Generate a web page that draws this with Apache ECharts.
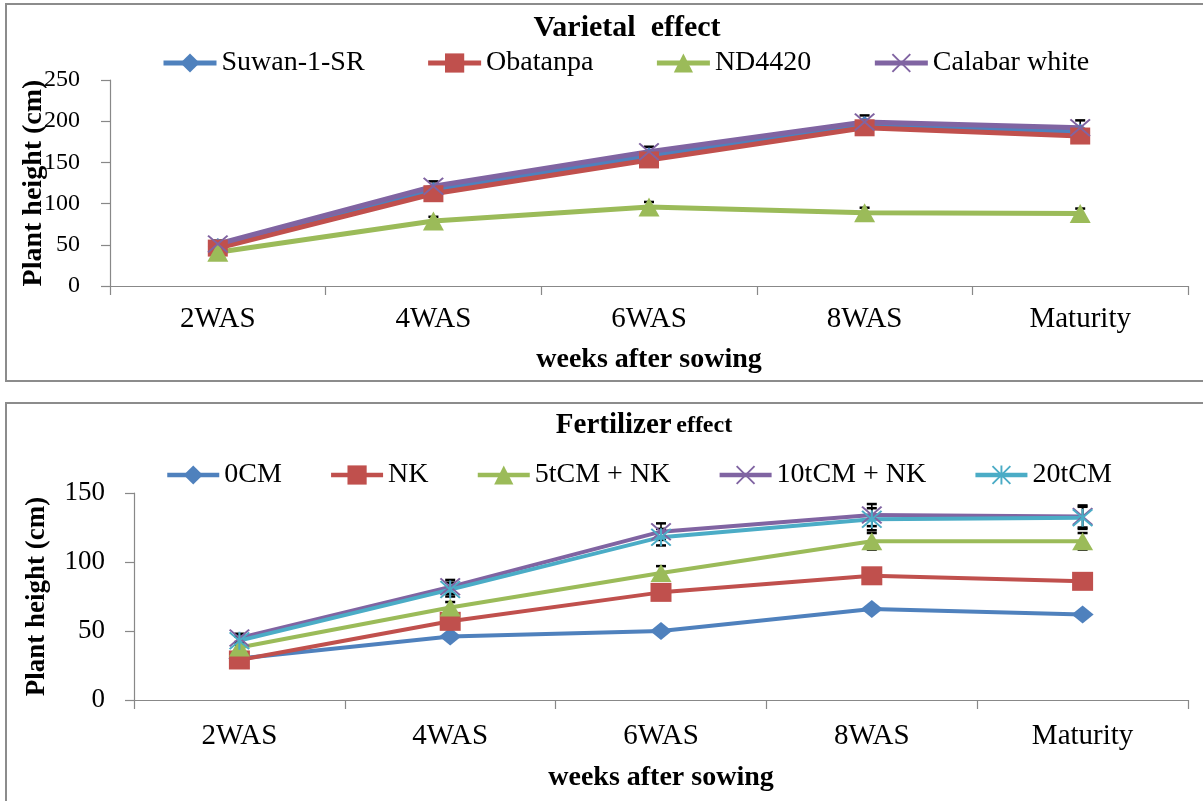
<!DOCTYPE html>
<html>
<head>
<meta charset="utf-8">
<script src="https://cdn.jsdelivr.net/npm/echarts@6/dist/echarts.min.js"></script>
<style>
html,body{margin:0;padding:0;background:#fff;}
#chart{width:1203px;height:801px;}
</style>
</head>
<body>
<div id="chart"></div>
<script>
// ---------- data ----------
const categories = ['2WAS', '4WAS', '6WAS', '8WAS', 'Maturity'];

// Varietal effect (top panel)
const varietyNames = ['Suwan-1-SR', 'Obatanpa', 'ND4420', 'Calabar white'];
const suwan     = [48, 116, 158, 196, 187];
const obatanpa  = [46, 112, 153, 192, 182];
const nd4420    = [41, 79, 96, 89, 88];
const calabar   = [51, 121, 163, 199, 192];
const nd4420Err  = [3, 5, 6, 6, 6];
const calabarErr = [4, 6, 6, 8, 9];
const topTicks = { min: 0, max: 250, interval: 50 };

// Fertilizer effect (bottom panel)
const fertNames = ['0CM', 'NK', '5tCM + NK', '10tCM + NK', '20tCM'];
const cm0     = [30, 46, 50, 66, 62];
const nk      = [29, 57, 78, 90, 86];
const cm5nk   = [38, 67, 92, 115, 115];
const cm10nk  = [45, 82, 122, 134, 133];
const cm20    = [43, 80, 118, 131, 132];
const cm5nkErr  = [2, 4, 5, 6, 6];
const cm10nkErr = [3, 5, 6, 8, 8];
const cm20Err   = [3, 5, 6, 8, 8];
const bottomTicks = { min: 0, max: 150, interval: 50 };

// ---------- styling ----------
const FONT = 'Liberation Serif';
const C = { blue: '#4F81BD', red: '#C0504D', green: '#9BBB59', purple: '#8064A2', cyan: '#4BACC6' };
const X_PATH = 'path://M0,0.7 L0.7,0 L5,4.3 L9.3,0 L10,0.7 L5.7,5 L10,9.3 L9.3,10 L5,5.7 L0.7,10 L0,9.3 L4.3,5 Z';
const STAR_PATH = 'path://M0,0.7 L0.7,0 L5,4.3 L9.3,0 L10,0.7 L5.7,5 L10,9.3 L9.3,10 L5,5.7 L0.7,10 L0,9.3 L4.3,5 Z M4.5,0 L5.5,0 L5.5,10 L4.5,10 Z';

function lineSeries(name, data, color, symbol, size, idx, lw) {
  return {
    type: 'line', name: name, data: data,
    xAxisIndex: idx, yAxisIndex: idx,
    symbol: symbol, symbolSize: size,
    lineStyle: { color: color, width: lw },
    itemStyle: { color: color, borderWidth: 0 },
    z: 3
  };
}

function errSeries(vals, errs, idx) {
  return {
    type: 'custom', xAxisIndex: idx, yAxisIndex: idx, z: 1, silent: true,
    encode: { x: 0, y: 1 },
    data: vals.map(function (v, i) { return [i, v, errs[i]]; }),
    renderItem: function (params, api) {
      const i = api.value(0), v = api.value(1), e = api.value(2);
      const t = api.coord([i, v + e]);
      const b = api.coord([i, v - e]);
      const w = 5;
      const st = { stroke: '#000', lineWidth: 1.6 };
      return {
        type: 'group',
        children: [
          { type: 'line', shape: { x1: t[0], y1: t[1], x2: b[0], y2: b[1] }, style: st },
          { type: 'line', shape: { x1: t[0] - w, y1: t[1], x2: t[0] + w, y2: t[1] }, style: { stroke: '#000', lineWidth: 2.5 } },
          { type: 'line', shape: { x1: b[0] - w, y1: b[1], x2: b[0] + w, y2: b[1] }, style: { stroke: '#000', lineWidth: 2.5 } }
        ]
      };
    }
  };
}

function xAxis(idx, labelSize, margin, nameGap) {
  return {
    type: 'category', gridIndex: idx, data: categories,
    boundaryGap: true,
    name: 'weeks after sowing', nameLocation: 'middle', nameGap: nameGap,
    nameMoveOverlap: false,
    nameTextStyle: { fontFamily: FONT, fontWeight: 'bold', fontSize: 28, color: '#000' },
    axisLine: { lineStyle: { color: '#888', width: 1.2 } },
    axisTick: { show: true, length: 9, interval: 0, lineStyle: { color: '#888', width: 1.2 } },
    axisLabel: { fontFamily: FONT, fontSize: labelSize, color: '#000', margin: margin, interval: 0 },
    splitLine: { show: false }
  };
}

function yAxis(idx, ticks, labelSize, margin, nameSize, nameGap) {
  return {
    type: 'value', gridIndex: idx,
    min: ticks.min, max: ticks.max, interval: ticks.interval,
    name: 'Plant height (cm)', nameLocation: 'middle', nameGap: nameGap, nameRotate: 90,
    nameMoveOverlap: false,
    nameTextStyle: { fontFamily: FONT, fontWeight: 'bold', fontSize: nameSize, color: '#000' },
    axisLine: { show: true, lineStyle: { color: '#888', width: 1.2 } },
    axisTick: { show: true, length: 9, lineStyle: { color: '#888', width: 1.2 } },
    axisLabel: { fontFamily: FONT, fontSize: labelSize, color: '#000', margin: margin },
    splitLine: { show: false }
  };
}

const chart = echarts.init(document.getElementById('chart'), null, { renderer: 'canvas' });

const option = {
  animation: false,
  backgroundColor: '#fff',
  graphic: [
    { type: 'rect', shape: { x: 6, y: 4, width: 1210, height: 377 }, style: { fill: 'none', stroke: '#8c8c8c', lineWidth: 2 }, z: -1 },
    { type: 'rect', shape: { x: 6, y: 403, width: 1210, height: 420 }, style: { fill: 'none', stroke: '#8c8c8c', lineWidth: 2 }, z: -1 }
  ],
  title: [
    {
      text: 'Varietal  effect', left: 627, top: 13, textAlign: 'center', padding: 0,
      textStyle: { fontFamily: FONT, fontWeight: 'bold', fontSize: 30, color: '#000' }
    },
    {
      text: '{a|Fertilizer} {b|effect}', left: 644, top: 411, textAlign: 'center', padding: 0,
      textStyle: {
        fontFamily: FONT, color: '#000',
        rich: {
          a: { fontFamily: FONT, fontWeight: 'bold', fontSize: 29, color: '#000' },
          b: { fontFamily: FONT, fontWeight: 'bold', fontSize: 24, color: '#000' }
        }
      }
    }
  ],
  legend: [
    {
      data: varietyNames, left: 161, top: 49, padding: 0,
      itemWidth: 53, itemHeight: 24, itemGap: 61,
      lineStyle: { width: 5 },
      textStyle: { fontFamily: FONT, fontSize: 28, color: '#000' }
    },
    {
      data: fertNames, left: 165, top: 461, padding: 0,
      itemWidth: 52, itemHeight: 24, itemGap: 47,
      lineStyle: { width: 4.5 },
      textStyle: { fontFamily: FONT, fontSize: 28, color: '#000' }
    }
  ],
  grid: [
    { left: 110, right: 15, top: 80, bottom: 515, containLabel: false },
    { left: 134, right: 15, top: 493, bottom: 101, containLabel: false }
  ],
  xAxis: [ xAxis(0, 29, 19, 60), xAxis(1, 29, 22, 64) ],
  yAxis: [ yAxis(0, topTicks, 24, 30, 28, 62), yAxis(1, bottomTicks, 27, 29, 27, 83) ],
  series: [
    errSeries(nd4420, nd4420Err, 0),
    errSeries(calabar, calabarErr, 0),
    lineSeries(varietyNames[0], suwan, C.blue, 'diamond', [20, 17], 0, 5),
    lineSeries(varietyNames[1], obatanpa, C.red, 'rect', [20, 17], 0, 5),
    lineSeries(varietyNames[2], nd4420, C.green, 'triangle', [21, 19], 0, 5),
    lineSeries(varietyNames[3], calabar, C.purple, X_PATH, [21, 18], 0, 5),

    errSeries(cm5nk, cm5nkErr, 1),
    errSeries(cm10nk, cm10nkErr, 1),
    errSeries(cm20, cm20Err, 1),
    lineSeries(fertNames[0], cm0, C.blue, 'diamond', [22, 18], 1, 4),
    lineSeries(fertNames[1], nk, C.red, 'rect', [21, 19], 1, 4),
    lineSeries(fertNames[2], cm5nk, C.green, 'triangle', [21, 18], 1, 4),
    lineSeries(fertNames[3], cm10nk, C.purple, X_PATH, [21, 18], 1, 4),
    lineSeries(fertNames[4], cm20, C.cyan, STAR_PATH, [21, 18], 1, 4)
  ]
};
chart.setOption(option);
</script>
</body>
</html>
